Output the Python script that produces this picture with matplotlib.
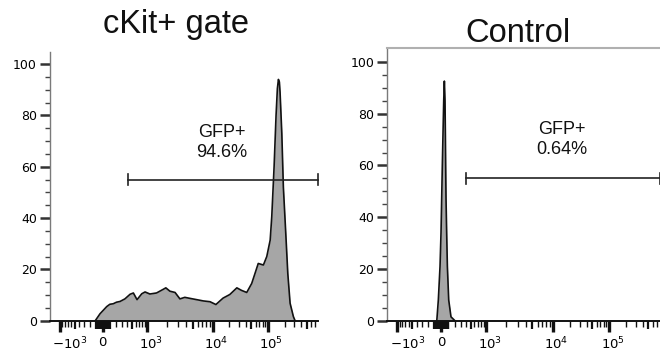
import numpy as np
import matplotlib
matplotlib.use("Agg")
import matplotlib.pyplot as plt
from matplotlib.ticker import FixedLocator
from matplotlib.transforms import ScaledTranslation

# ---------------- data ----------------
titles = ["cKit+ gate", "Control"]
gate_labels = ["GFP+\n94.6%", "GFP+\n0.64%"]

ckit_x = [-110, -40, 55, 100, 150, 200, 260, 350, 460, 540, 640, 790, 910, 1100,
          1400, 1800, 1950, 2250, 2700, 3200, 3800, 4550, 5750, 7250, 9150, 11500,
          15500, 20500, 27500, 33500, 41500, 51000, 58500, 67000, 83000, 95500,
          110000, 117500, 129500, 140500, 148500, 155000, 161400, 166000, 178500,
          190500, 210500, 229000, 252000, 289000, 310000]
ckit_y = [0, 2.7, 5.5, 6.4, 6.6, 7.2, 7.5, 8.5, 10.3, 10.8, 8.2, 10.5, 11.2, 10.4,
          10.8, 12.3, 12.8, 11.5, 11, 8.5, 9.1, 8.7, 8.2, 7.7, 7.4, 6.3,
          8.8, 10.2, 12.8, 11.8, 11, 14.5, 18.4, 22.3, 21.7, 25,
          31.4, 40.5, 60, 80, 90.5, 94, 93, 89, 73,
          52, 34, 18.4, 6.8, 1.6, 0]

ctrl_x = [-60, -38, -14, 0, 9, 18, 27, 37, 46, 55, 60, 64, 69, 78, 88, 107, 140, 200]
ctrl_y = [0, 8, 21, 34, 47, 60, 72, 85, 92.6, 85, 72, 60, 47, 34, 21, 8, 1.5, 0]

gate_lo = [410, 400]
gate_hi = [8.0e5, 8.0e5]
gate_y = [55, 55]
label_x = [14500, 14500]
label_y = [69.5, 70.0]

xtick_vals = [-1e3, 0, 1e3, 1e4, 1e5]
xtick_labels = [r"$-10^{3}$", "0", r"$10^{3}$", r"$10^{4}$", r"$10^{5}$"]
ytick_vals = [0, 20, 40, 60, 80, 100]

# ---------------- biexponential-like scale ----------------
C = 350.0
LN10 = np.log(10.0)
knot_vals = np.array([-1e3, 0.0, 1e3, 1e4, 1e5])
knot_frac = np.array([0.036, 0.197, 0.363, 0.6065, 0.813])


def t_of(x):
    return np.arcsinh(np.asarray(x, dtype=float) / C) / LN10


T = t_of(knot_vals)
s_lo = (knot_frac[1] - knot_frac[0]) / (T[1] - T[0])
s_hi = (knot_frac[-1] - knot_frac[-2]) / (T[-1] - T[-2])
T_ext = np.concatenate([[T[0] - 10], T, [T[-1] + 10]])
U_ext = np.concatenate([[knot_frac[0] - 10 * s_lo], knot_frac, [knot_frac[-1] + 10 * s_hi]])


def fwd(x):
    return np.interp(t_of(x), T_ext, U_ext)


def inv(u):
    return C * np.sinh(np.interp(np.asarray(u, dtype=float), U_ext, T_ext) * LN10)


XMIN, XMAX = float(inv(0.0)), float(inv(1.0))

minor_ticks = ([-900, -800, -700, -600, -400, -300, -200] +
               [200, 300, 400, 600, 700, 800, 900] +
               [2000, 3000, 4000, 6000, 7000, 8000, 9000] +
               [20000, 30000, 40000, 60000, 70000, 80000, 90000] +
               [200000, 300000, 400000, 600000, 700000])
medium_ticks = ([-500] + list(range(-100, 0, 10)) + list(range(10, 101, 10)) +
                [500, 5000, 50000, 500000])

# ---------------- figure ----------------
fig = plt.figure(figsize=(6.6, 3.63), dpi=100)
axes_rects = [
    [50 / 660, (363 - 320.7) / 363, 268 / 660, (320.7 - 51.7) / 363],
    [387.3 / 660, (363 - 320.7) / 363, 272.7 / 660, (320.7 - 47.7) / 363],
]
ylims = [(0, 104.8), (0, 105.5)]
datasets = [(ckit_x, ckit_y), (ctrl_x, ctrl_y)]
title_pos = [(176 / 660, 1 - 33 / 363), (518 / 660, 1 - 41.7 / 363)]

label_offsets_px = [10, 0, 3.5, 3.5, 3.5]

axes = []
for i in range(2):
    ax = fig.add_axes(axes_rects[i])
    ax.set_xscale("function", functions=(fwd, inv))
    ax.set_xlim(XMIN, XMAX)
    ax.set_ylim(*ylims[i])

    xs, ys = datasets[i]
    ax.fill_between(xs, ys, 0, color="#a6a6a6", linewidth=0, zorder=2)
    ax.plot(xs, ys, color="#111111", lw=1.2, zorder=3, solid_joinstyle="round")

    # gate
    ax.plot([gate_lo[i], gate_hi[i]], [gate_y[i], gate_y[i]], color="#222222", lw=1.2,
            zorder=4, clip_on=False)
    for gx in (gate_lo[i], gate_hi[i]):
        ax.plot([gx, gx], [gate_y[i] - 2.2, gate_y[i] + 2.2], color="#222222", lw=1.2,
                zorder=4, clip_on=False)
    ax.text(label_x[i], label_y[i], gate_labels[i], ha="center", va="center",
            fontsize=13, family="Liberation Sans", linespacing=1.25, color="#111111")

    # spines
    ax.spines["right"].set_visible(False)
    if i == 0:
        ax.spines["top"].set_visible(False)
    else:
        ax.spines["top"].set_color("#b0b0b0")
        ax.spines["top"].set_linewidth(1.5)
    ax.spines["left"].set_color("#7a7a7a")
    ax.spines["left"].set_linewidth(1.0)
    ax.spines["bottom"].set_color("#111111")
    ax.spines["bottom"].set_linewidth(1.4)

    # x ticks
    ax.xaxis.set_major_locator(FixedLocator(xtick_vals))
    ax.set_xticklabels(xtick_labels)
    ax.xaxis.set_minor_locator(FixedLocator(minor_ticks))
    ax.tick_params(axis="x", which="major", direction="out", length=8, width=2.4,
                   color="#111111", labelsize=9.5, pad=3)
    ax.tick_params(axis="x", which="minor", direction="out", length=4, width=1.0,
                   color="#111111")
    # y ticks
    ax.set_yticks(ytick_vals)
    ax.set_yticks([v for v in range(5, 105, 5) if v % 20 != 0], minor=True)
    ax.tick_params(axis="y", which="major", direction="out", length=7, width=1.8,
                   color="#333333", labelsize=9, pad=2.5)
    ax.tick_params(axis="y", which="minor", direction="out", length=3.5, width=1.0,
                   color="#444444")

    # medium ticks on a twin axis
    tw = ax.twiny()
    tw.set_xscale("function", functions=(fwd, inv))
    tw.set_xlim(XMIN, XMAX)
    tw.xaxis.set_ticks_position("bottom")
    tw.xaxis.set_major_locator(FixedLocator(medium_ticks))
    tw.tick_params(axis="x", which="major", direction="out", length=6, width=1.6,
                   color="#111111", labelbottom=False, labeltop=False)
    tw.xaxis.set_minor_locator(FixedLocator([]))
    for s in tw.spines.values():
        s.set_visible(False)

    fig.text(title_pos[i][0], title_pos[i][1], titles[i], ha="center", va="baseline",
             fontsize=23.5, family="Liberation Sans", color="#111111")
    axes.append(ax)

fig.canvas.draw()
for ax in axes:
    for lab, dx in zip(ax.xaxis.get_majorticklabels(), label_offsets_px):
        lab.set_transform(lab.get_transform() +
                          ScaledTranslation(dx / 100.0, 0, fig.dpi_scale_trans))

fig.savefig("out.png", dpi=100)
